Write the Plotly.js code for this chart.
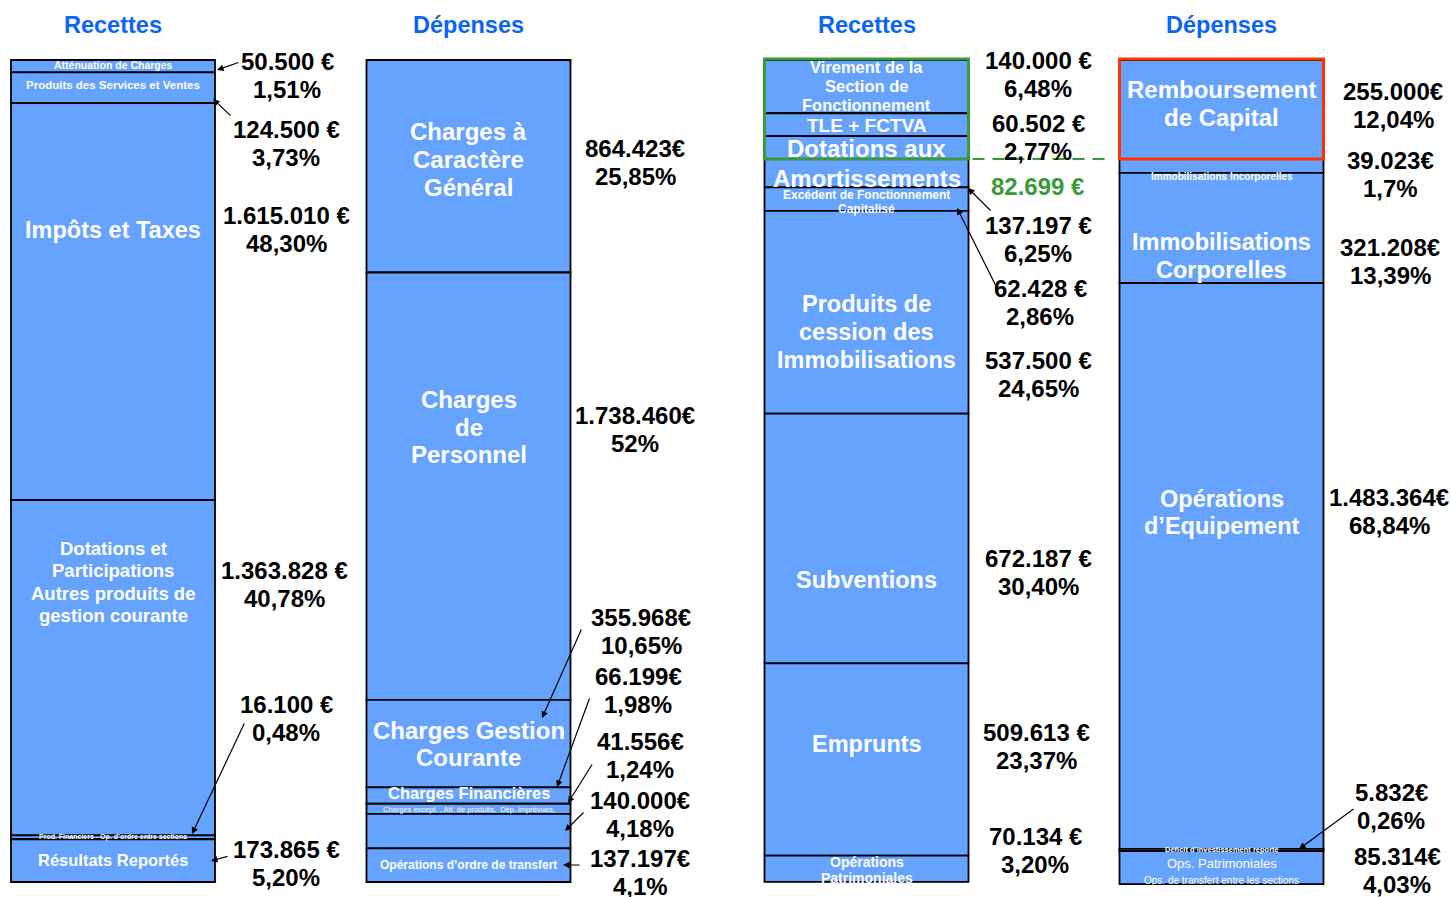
<!DOCTYPE html>
<html><head><meta charset="utf-8">
<script src="https://cdn.plot.ly/plotly-3.0.1.min.js"></script>
<style>html,body{margin:0;padding:0;background:#fff;overflow:hidden}</style>
</head><body><div id="chart" style="width:1451px;height:897px"></div>
<script>
// ================= DATA =================
const sectionTitles = ['Recettes', 'Dépenses', 'Recettes', 'Dépenses'];

// Section de fonctionnement - Recettes
const fonctRecettesLabels = ['Atténuation de Charges', 'Produits des Services et Ventes', 'Impôts et Taxes',
  'Dotations et\nParticipations\nAutres produits de\ngestion courante', 'Prod. Financiers - Op. d’ordre entre sections', 'Résultats Reportés'];
const fonctRecettesAmounts = [50500, 124500, 1615010, 1363828, 16100, 173865];
const fonctRecettesPct = ['1,51', '3,73', '48,30', '40,78', '0,48', '5,20'];

// Section de fonctionnement - Dépenses
const fonctDepensesLabels = ['Charges à\nCaractère\nGénéral', 'Charges\nde\nPersonnel', 'Charges Gestion\nCourante', 'Charges Financières',
  'Charges except. , Att. de produits,  Dép. imprévues,', '', 'Opérations d’ordre de transfert'];
const fonctDepensesAmounts = [864423, 1738460, 355968, 66199, 41556, 140000, 137197];
const fonctDepensesPct = ['25,85', '52', '10,65', '1,98', '1,24', '4,18', '4,1'];

// Section d'investissement - Recettes
const investRecettesLabels = ['Virement de la\nSection de\nFonctionnement', 'TLE + FCTVA', 'Dotations aux\nAmortissements',
  'Excédent de Fonctionnement\nCapitalisé', 'Produits de\ncession des\nImmobilisations', 'Subventions', 'Emprunts', 'Opérations\nPatrimoniales'];
const investRecettesAmounts = [140000, 60502, 137197, 62428, 537500, 672187, 509613, 70134];
const investRecettesPct = ['6,48', '2,77', '6,25', '2,86', '24,65', '30,40', '23,37', '3,20'];

// Section d'investissement - Dépenses
const investDepensesLabels = ['Remboursement\nde Capital', 'Immobilisations Incorporelles', 'Immobilisations\nCorporelles',
  'Opérations\nd’Equipement', 'Déficit d’investissement reporté', 'Ops. Patrimoniales\nOps. de transfert entre les sections'];
const investDepensesAmounts = [255000, 39023, 321208, 1483364, 5832, 85314];
const investDepensesPct = ['12,04', '1,7', '13,39', '68,84', '0,26', '4,03'];

// ================= LAYOUT / STYLE =================
const W = 1451, H = 897;
const TOP = 60, BOT = 882;                    // pixel rows of 0% and 100%
const PX = p => (p - TOP) / (BOT - TOP) * 100; // pixel row -> axis value
const BAR_W = 204;
const FONT = 'Liberation Sans, Arial, sans-serif';
const BLUE = '#66a3ff', GREEN = '#3a9a3a', RED = '#ff3300', TITLE = '#0a64f5';

const cols = [
  { labels: fonctRecettesLabels, amounts: fonctRecettesAmounts, pct: fonctRecettesPct, cx: 113, euro: ' €',
    valX: [287, 286, 286, 284, 286, 286], valY: [75, 143, 229, 584, 718, 863],
    lab: [{y:65,s:10.5},{y:85,s:11.5},{y:230,s:23.5},{y:582,s:18.5,g:22.5},{y:837,s:7},{y:860,s:16.5}] },
  { labels: fonctDepensesLabels, amounts: fonctDepensesAmounts, pct: fonctDepensesPct, cx: 468.5, euro: '€',
    valX: [635, 635, 641, 638, 640, 640, 640], valY: [162, 429, 631, 690, 755, 814, 872],
    lab: [{y:159,s:24,g:28},{y:427,s:24,g:27.5},{y:744,s:24,g:27},{y:793,s:16.5},{y:809,s:7.5,r:1},null,{y:865,s:12}] },
  { labels: investRecettesLabels, amounts: investRecettesAmounts, pct: investRecettesPct, cx: 866.5, euro: ' €',
    valX: [1038, 1038, 1038, 1040, 1038, 1038, 1036, 1035], valY: [74, 137, 239, 302, 374, 572, 746, 850],
    lab: [{y:86,s:16.5,g:19},{y:125,s:19},{y:163,s:24,g:30},{y:202,s:12,g:14},{y:332,s:23.5,g:28},{y:580,s:23.5},{y:744,s:23.5},{y:870,s:14,g:16}] },
  { labels: investDepensesLabels, amounts: investDepensesAmounts, pct: investDepensesPct, cx: 1221.5, euro: '€',
    valX: [1393, 1390, 1390, 1389, 1391, 1397], valY: [105, 174, 261, 511, 806, 870],
    lab: [{y:103,s:24,g:28},{y:176,s:10},{y:256,s:23.5,g:28},{y:512,s:23.5,g:27},{y:849,s:7.5},{y:872,s:[13,10],g:17,r:1}] }
];

// arrows: [tailX, tailY, headX, headY] in pixels
const arrows = [
  [240, 62, 217, 70], [232, 117, 213, 99], [245, 722, 192, 834], [229, 856, 211, 861],
  [582, 628, 542, 718], [590, 697, 557, 787], [593, 763, 568, 803], [585, 811, 565, 831], [581, 865, 563, 865],
  [992, 212, 968, 188], [998, 290, 957, 208],
  [1355, 808, 1299, 849]
];

const fmt = n => String(n).replace(/\B(?=(\d{3})+(?!\d))/g, '.');
const num = s => parseFloat(s.replace(',', '.'));

const traces = [];
const annotations = [];
const shapes = [];

function txt(x, py, text, size, color, bold) {
  annotations.push({ x: x, y: PX(py), xref: 'x', yref: 'y', text: text, showarrow: false,
    xanchor: 'center', yanchor: 'middle', borderpad: 0,
    font: { family: FONT, size: size, color: color, weight: bold ? 'bold' : 'normal' } });
}

cols.forEach((c, ci) => {
  const h = c.pct.map(num);
  const base = [];
  let acc = 0;
  h.forEach(v => { base.push(acc); acc += v; });
  traces.push({ type: 'bar', x: h.map(() => c.cx), y: h, base: base, width: BAR_W,
    marker: { color: BLUE, line: { color: '#000', width: 1.8 } }, hoverinfo: 'skip', showlegend: false });

  // section title
  txt(c.cx, 25, sectionTitles[ci], 23.5, TITLE, true);

  // labels inside segments
  c.labels.forEach((label, i) => {
    const L = c.lab[i];
    if (!label || !L) return;
    const lines = label.split('\n');
    const g = L.g || 0;
    lines.forEach((ln, k) => {
      const size = Array.isArray(L.s) ? L.s[k] : L.s;
      txt(c.cx, L.y + (k - (lines.length - 1) / 2) * g, ln, size, '#ffffff', !L.r);
    });
  });

  // value + percentage labels
  c.amounts.forEach((a, i) => {
    txt(c.valX[i], c.valY[i] - 14, fmt(a) + c.euro, 24, '#000', true);
    txt(c.valX[i], c.valY[i] + 14, c.pct[i] + '%', 24, '#000', true);
  });
});

// amount of investment receipts above capital repayment
const capital = investDepensesAmounts[0];
const surplus = investRecettesAmounts[0] + investRecettesAmounts[1] + investRecettesAmounts[2] - capital;
txt(1037, 186, fmt(surplus) + ' €', 24, GREEN, true);

const level = num(investDepensesPct[0]);
shapes.push({ type: 'rect', xref: 'x', yref: 'y', x0: cols[2].cx - BAR_W / 2, x1: cols[2].cx + BAR_W / 2,
  y0: PX(59), y1: level, line: { color: GREEN, width: 3 } });
shapes.push({ type: 'rect', xref: 'x', yref: 'y', x0: cols[3].cx - BAR_W / 2, x1: cols[3].cx + BAR_W / 2,
  y0: PX(59), y1: level, line: { color: RED, width: 3 } });
shapes.push({ type: 'line', xref: 'x', yref: 'y', x0: cols[2].cx + BAR_W / 2 + 4, x1: cols[3].cx - BAR_W / 2 - 10,
  y0: level, y1: level, line: { color: GREEN, width: 2, dash: '12px,8px' } });

arrows.forEach(a => {
  annotations.push({ x: a[2], y: PX(a[3]), ax: a[0], ay: PX(a[1]), xref: 'x', yref: 'y', axref: 'x', ayref: 'y',
    text: '', showarrow: true, arrowhead: 2, arrowsize: 1.1, arrowwidth: 1.2, arrowcolor: '#000', standoff: 0 });
});

const layout = {
  width: W, height: H,
  margin: { l: 0, r: 0, t: 0, b: 0 },
  paper_bgcolor: '#fff', plot_bgcolor: '#fff',
  barmode: 'overlay', showlegend: false, hovermode: false,
  xaxis: { range: [0, W], visible: false, fixedrange: true },
  yaxis: { range: [PX(H), PX(0)], visible: false, fixedrange: true },
  annotations: annotations, shapes: shapes
};
Plotly.newPlot('chart', traces, layout, { staticPlot: true, displayModeBar: false });
</script>
</body></html>
